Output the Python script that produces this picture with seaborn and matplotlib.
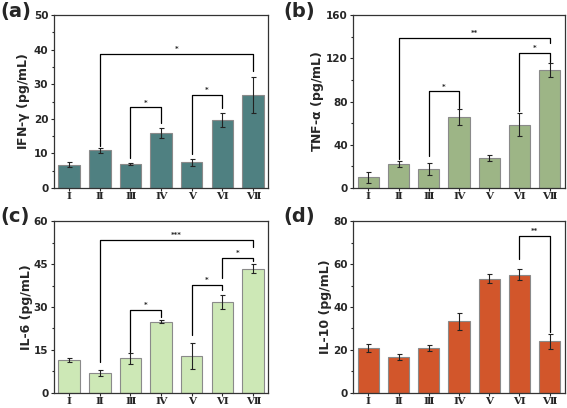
import numpy as np
import pandas as pd
import matplotlib
matplotlib.use('Agg')
import matplotlib.pyplot as plt
import seaborn as sns
from matplotlib.ticker import AutoMinorLocator

groups = ['Ⅰ', 'Ⅱ', 'Ⅲ', 'Ⅳ', 'Ⅴ', 'Ⅵ', 'Ⅶ']

ifn = [6.8, 10.9, 7.0, 16.0, 7.4, 19.7, 26.8]
ifn_err = [0.7, 0.8, 0.2, 1.4, 0.9, 2.1, 5.2]
tnf = [9.9, 22.4, 17.7, 65.8, 28.0, 58.7, 109.3]
tnf_err = [4.8, 2.5, 5.7, 7.8, 3.0, 10.5, 6.7]
il6 = [11.6, 6.9, 12.1, 24.9, 13.0, 31.7, 43.4]
il6_err = [0.7, 1.1, 1.9, 0.4, 4.5, 2.4, 1.5]
il10 = [20.9, 16.7, 20.7, 33.3, 53.1, 55.1, 24.0]
il10_err = [1.8, 1.2, 1.4, 4.0, 2.1, 2.5, 3.6]

# brackets: (left idx, right idx, height, left leg bottom, right leg bottom, label)
ifn_br = [(1, 6, 38.8, 12.1, 33.7, '*'), (2, 3, 23.3, 8.7, 18.9, '*'), (4, 5, 26.9, 9.9, 23.1, '*')]
tnf_br = [(1, 6, 138.8, 27.3, 134.0, '**'), (2, 3, 89.4, 29.5, 74.0, '*'), (5, 6, 124.8, 71.4, 117.0, '*')]
il6_br = [(1, 6, 53.5, 10.7, 51.0, '***'), (2, 3, 29.1, 14.2, 26.6, '*'),
          (4, 5, 37.7, 20.3, 36.0, '*'), (5, 6, 47.1, 40.1, 46.0, '*')]
il10_br = [(5, 6, 73.0, 62.2, 28.2, '**')]

panels = [
    ('(a)', 'IFN-$\\gamma$ (pg/mL)', ifn, ifn_err, ifn_br, '#4f8081', 50, 10,
     [0.095, 0.539, 0.378, 0.424], (0.0, 0.972), -0.14),
    ('(b)', 'TNF-$\\alpha$ (pg/mL)', tnf, tnf_err, tnf_br, '#9db586', 160, 40,
     [0.623, 0.539, 0.373, 0.424], (0.499, 0.972), -0.168),
    ('(c)', 'IL-6 (pg/mL)', il6, il6_err, il6_br, '#cde8b6', 60, 15,
     [0.095, 0.037, 0.378, 0.421], (0.0, 0.470), -0.128),
    ('(d)', 'IL-10 (pg/mL)', il10, il10_err, il10_br, '#d2562b', 80, 20,
     [0.623, 0.037, 0.373, 0.421], (0.499, 0.470), -0.13),
]

sns.set_style('ticks')
plt.rcParams['font.family'] = ['DejaVu Sans']
plt.rcParams['font.weight'] = 'bold'
plt.rcParams['axes.labelweight'] = 'bold'
plt.rcParams['mathtext.default'] = 'regular'

fig = plt.figure(figsize=(5.67, 4.08), dpi=100)

for tag, ylab, vals, errs, brs, col, ymax, step, pos, tagpos, labx in panels:
    ax = fig.add_axes(pos)
    df = pd.DataFrame({'group': groups, 'value': vals})
    sns.barplot(data=df, x='group', y='value', color=col, width=0.7,
                edgecolor='#8a8a8a', linewidth=0.8, saturation=1, errorbar=None, ax=ax)
    ax.errorbar(range(len(groups)), vals, yerr=errs, fmt='none', ecolor='#222222',
                elinewidth=0.8, capsize=1.8, capthick=0.8)
    for l, r, h, lb, rb, s in brs:
        ax.plot([l, l, r, r], [lb, h, h, rb], color='black', lw=0.9)
        ax.text((l + r) / 2, h + ymax * 0.01, s, ha='center', va='bottom', fontsize=5)
    ax.set_xlim(-0.5, 6.5)
    ax.set_ylim(0, ymax)
    ax.set_yticks(np.arange(0, ymax + 1, step))
    ax.yaxis.set_minor_locator(AutoMinorLocator(2))
    ax.set_xlabel('')
    ax.set_ylabel(ylab, fontsize=9, fontweight='bold')
    ax.yaxis.label.set_va('center')
    ax.yaxis.set_label_coords(labx, 0.5)
    ax.tick_params(axis='y', labelsize=7.5, length=2.5, width=0.8, direction='out', pad=1.5)
    ax.tick_params(axis='y', which='minor', length=1.5, width=0.8)
    ax.tick_params(axis='x', length=2, width=0.8, direction='out', pad=1)
    for lab in ax.get_xticklabels():
        lab.set_fontfamily(['DejaVu Serif'])
        lab.set_fontsize(7.5)
    for lab in ax.get_yticklabels():
        lab.set_fontweight('bold')
    for sp in ax.spines.values():
        sp.set_visible(True)
        sp.set_color('#333333')
        sp.set_linewidth(0.9)
    fig.text(tagpos[0], tagpos[1], tag, fontsize=14, fontweight='bold',
             ha='left', va='center')

fig.savefig('out.png', dpi=100)
